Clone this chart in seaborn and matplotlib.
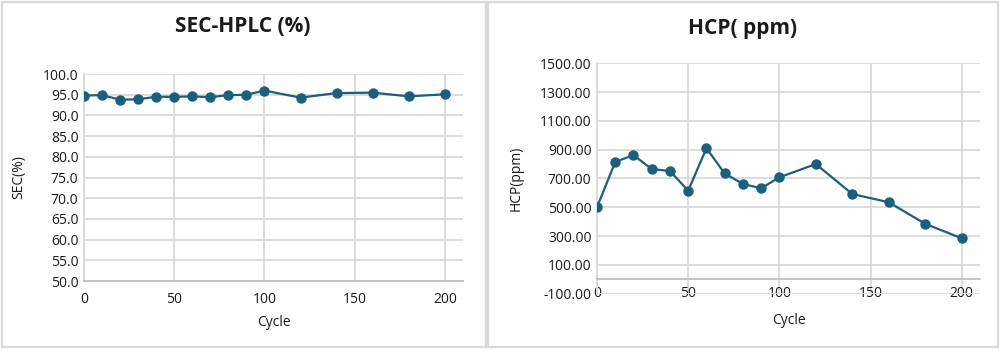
import matplotlib
matplotlib.use("Agg")
import matplotlib.pyplot as plt
import seaborn as sns
import pandas as pd
from matplotlib.patches import Rectangle
from matplotlib.ticker import FormatStrFormatter

cycles = [0, 10, 20, 30, 40, 50, 60, 70, 80, 90, 100, 120, 140, 160, 180, 200]
sec_values = [94.8, 94.9, 93.8, 93.9, 94.5, 94.5, 94.6, 94.4, 94.9, 95.0, 96.0, 94.3, 95.4, 95.5, 94.6, 95.1]
hcp_values = [500, 815, 862, 765, 752, 615, 910, 735, 662, 632, 708, 800, 592, 535, 385, 285]

sec_title = "SEC-HPLC (%)"
hcp_title = "HCP( ppm)"
sec_ylabel = "SEC(%)"
hcp_ylabel = "HCP(ppm)"
xlabel = "Cycle"
x_ticks = [0, 50, 100, 150, 200]
sec_yticks = [50, 55, 60, 65, 70, 75, 80, 85, 90, 95, 100]
hcp_yticks = [-100, 100, 300, 500, 700, 900, 1100, 1300, 1500]

sns.set_theme(style="white")
plt.rcParams['font.family'] = ['Open Sans', 'DejaVu Sans']

LINE = "#1b5e7e"
GRID = "#d9d9d9"
SPINE = "#bfbfbf"
TXT = "#1a1a1a"

fig = plt.figure(figsize=(10, 3.51), dpi=100)

# panel borders
fig.patches.append(Rectangle((2 / 1000, 4 / 351), 484 / 1000, 345 / 351, transform=fig.transFigure,
                             fill=False, edgecolor=GRID, linewidth=1.6))
fig.patches.append(Rectangle((488 / 1000, 4 / 351), 510 / 1000, 345 / 351, transform=fig.transFigure,
                             fill=False, edgecolor=GRID, linewidth=1.6))

ax1 = fig.add_axes([0.084, 0.1994, 0.379, 0.5897])
ax2 = fig.add_axes([0.597, 0.163, 0.383, 0.657])

df1 = pd.DataFrame({"Cycle": cycles, "SEC": sec_values})
df2 = pd.DataFrame({"Cycle": cycles, "HCP": hcp_values})

sns.lineplot(data=df1, x="Cycle", y="SEC", ax=ax1, color=LINE, marker="o", markersize=7.5,
             linewidth=1.6, markeredgewidth=0, zorder=5)
sns.lineplot(data=df2, x="Cycle", y="HCP", ax=ax2, color=LINE, marker="o", markersize=7.5,
             linewidth=1.6, markeredgewidth=0, zorder=5)

for ax, yt, fmt, ylab in [(ax1, sec_yticks, "%.1f", sec_ylabel), (ax2, hcp_yticks, "%.2f", hcp_ylabel)]:
    ax.set_xlim(0, 210)
    ax.set_ylim(yt[0], yt[-1])
    ax.set_xticks(x_ticks)
    ax.set_yticks(yt)
    ax.yaxis.set_major_formatter(FormatStrFormatter(fmt))
    ax.grid(True, color=GRID, linewidth=1.3)
    ax.set_axisbelow(True)
    ax.tick_params(length=0, labelsize=10, colors=TXT, pad=4)
    ax.tick_params(axis="x", pad=8)
    for s in ["top", "right"]:
        ax.spines[s].set_visible(False)
    ax.spines["left"].set_color(GRID)
    ax.spines["left"].set_linewidth(1.3)
    ax.spines["bottom"].set_color(SPINE)
    ax.spines["bottom"].set_linewidth(1.3)
    ax.set_xlabel(xlabel, fontsize=10, color=TXT, labelpad=6)
    ax.set_ylabel(ylab, fontsize=10, color=TXT, labelpad=12)

ax2.spines["bottom"].set_position(("data", 0))
ax2.tick_params(axis="x", pad=5)
ax2.set_ylim(-100, 1500)
ax2.xaxis.set_label_coords(0.5, -0.085)

fig.text(0.243, 0.925, sec_title, ha="center", va="center", fontsize=15, fontweight="bold", color=TXT)
fig.text(0.7425, 0.92, hcp_title, ha="center", va="center", fontsize=15, fontweight="bold", color=TXT)

fig.savefig("out.png", dpi=100)
